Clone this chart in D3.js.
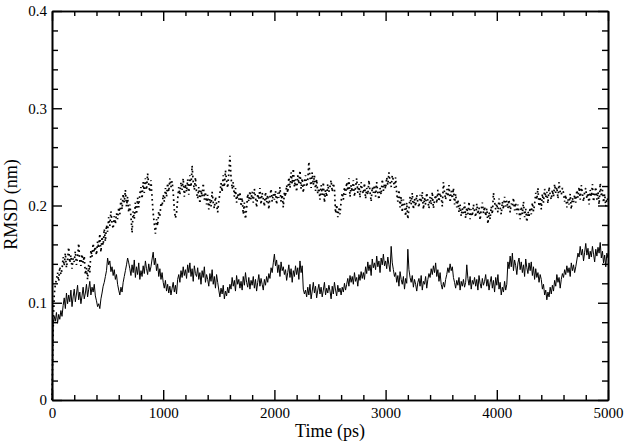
<!DOCTYPE html>
<html>
<head>
<meta charset="utf-8">
<script src="https://cdn.jsdelivr.net/npm/d3@7"></script>
<style>
  body { margin: 0; background: #fff; }
  .axis path, .axis line { stroke: #000; }
</style>
</head>
<body>
<div id="chart"></div>
<script>
// ************** data **************************************
// RMSD in thousandths of nm, one value every 10 ps from 0 to 5000
var timeStep = 10;

// solid trace (lower)
var rmsdSolid = [
  0, 78, 86, 81, 90, 79, 88, 83, 92, 86,
  97, 105, 94, 110, 99, 108, 101, 113, 96, 106,
  114, 101, 109, 118, 103, 111, 99, 107, 116, 104,
  110, 119, 106, 114, 122, 108, 116, 111, 119, 107,
  102, 96, 99, 94, 104, 110, 117, 121, 127, 133,
  146, 139, 143, 132, 137, 128, 134, 124, 129, 119,
  113, 108, 116, 111, 121, 127, 133, 139, 146, 141,
  135, 128, 139, 131, 144, 126, 137, 129, 141, 124,
  133, 127, 138, 130, 143, 135, 129, 140, 132, 137,
  145, 152, 139, 146, 133, 140, 127, 135, 124, 131,
  121, 115, 123, 112, 119, 110, 117, 108, 115, 121,
  111, 118, 109, 124, 129, 121, 133, 126, 137, 128,
  134, 125, 139, 131, 141, 127, 135, 122, 138, 130,
  127, 136, 124, 131, 119, 133, 126, 137, 121, 129,
  124, 117, 130, 122, 134, 119, 127, 115, 129, 121,
  113, 106, 115, 109, 118, 104, 112, 107, 116, 110,
  119, 114, 126, 117, 123, 112, 128, 119, 124, 115,
  122, 113, 127, 118, 131, 121, 116, 126, 114, 123,
  118, 127, 115, 124, 112, 121, 129, 117, 125, 119,
  113, 124, 118, 127, 121, 130, 125, 136, 131, 141,
  150, 138, 144, 131, 139, 127, 142, 133, 137, 129,
  134, 123, 131, 139, 126, 135, 121, 133, 127, 138,
  129, 136, 124, 143, 131, 138, 114, 109, 113, 106,
  116, 108, 119, 104, 112, 121, 110, 117, 105, 113,
  119, 109, 116, 106, 113, 121, 108, 115, 110, 118,
  112, 104, 117, 109, 121, 113, 107, 118, 111, 115,
  108, 116, 111, 120, 113, 119, 125, 117, 128, 121,
  127, 119, 131, 122, 126, 117, 129, 123, 132, 125,
  131, 124, 137, 130, 142, 133, 139, 128, 145, 136,
  141, 134, 148, 137, 143, 131, 146, 139, 150, 138,
  143, 135, 147, 139, 132, 158, 141, 134, 127, 131,
  121, 128, 117, 132, 124, 119, 127, 114, 125, 120,
  155, 134, 126, 121, 128, 116, 124, 119, 112, 121,
  125, 117, 128, 113, 122, 119, 127, 115, 124, 130,
  126, 135, 129, 138, 131, 141, 127, 134, 122, 131,
  119, 114, 121, 116, 124, 129, 136, 131, 140, 133,
  137, 126, 121, 115, 123, 118, 126, 113, 122, 117,
  124, 116, 121, 139, 125, 118, 127, 114, 123, 119,
  126, 117, 124, 113, 128, 120, 115, 125, 118, 122,
  129, 117, 124, 113, 121, 127, 115, 123, 111, 126,
  118, 129, 114, 121, 108, 116, 111, 122, 113, 119,
  142, 135, 148, 137, 151, 133, 144, 138, 129, 141,
  146, 134, 142, 131, 139, 127, 145, 136, 130, 141,
  133, 142, 128, 137, 124, 135, 126, 131, 121, 129,
  124, 114, 119, 108, 113, 103, 111, 106, 116, 109,
  118, 112, 123, 117, 129, 121, 126, 115, 124, 130,
  126, 134, 129, 138, 131, 136, 127, 141, 133, 139,
  131, 137, 144, 151, 147, 158, 149, 155, 143, 152,
  161, 149, 156, 145, 153, 147, 158, 150, 142, 155,
  148, 157, 151, 162, 146, 153, 141, 149, 137, 151,
  146
];

// dotted trace (upper)
var rmsdDotted = [
  0, 72, 108, 119, 124, 131, 122, 137, 129, 134,
  147, 138, 151, 136, 144, 157, 141, 149, 135, 146,
  142, 153, 139, 147, 161, 143, 138, 150, 141, 148,
  129, 136, 124, 139, 131, 154, 147, 161, 152, 158,
  149, 163, 156, 171, 152, 168, 159, 176, 163, 180,
  173, 188, 179, 194, 182, 176, 189, 181, 192, 186,
  198, 191, 207, 196, 212, 203, 216, 199, 209, 193,
  201, 189, 172, 194, 186, 203, 191, 208, 198, 212,
  219, 207, 224, 213, 228, 216, 233, 221, 214, 226,
  208, 192, 181, 171, 186, 179, 194, 188, 203, 199,
  211, 204, 218, 209, 223, 214, 228, 219, 225, 213,
  196, 187, 193, 206, 219, 211, 224, 216, 228, 209,
  222, 214, 227, 211, 231, 219, 241, 224, 216, 229,
  213, 207, 219, 202, 216, 209, 223, 206, 214, 201,
  211, 196, 207, 199, 214, 203, 197, 209, 201, 193,
  205, 212, 223, 214, 231, 219, 236, 226, 218, 233,
  251, 229, 217, 224, 209, 218, 203, 212, 206, 214,
  199, 208, 191, 203, 186, 197, 212, 204, 215, 206,
  214, 203, 217, 209, 198, 212, 206, 218, 201, 213,
  207, 199, 214, 203, 211, 196, 209, 217, 204, 212,
  206, 215, 201, 213, 208, 219, 204, 211, 198, 214,
  209, 221, 213, 229, 218, 234, 222, 238, 219, 227,
  214, 231, 222, 236, 217, 228, 213, 225, 231, 219,
  226, 245, 229, 218, 234, 221, 231, 215, 227, 212,
  218, 206, 221, 211, 224, 203, 216, 209, 222, 214,
  219, 226, 214, 223, 217, 192, 201, 188, 197, 191,
  204, 213, 206, 219, 211, 224, 215, 228, 209, 221,
  214, 226, 209, 219, 228, 213, 222, 208, 224, 216,
  212, 223, 207, 218, 211, 226, 214, 204, 219, 213,
  221, 209, 224, 213, 206, 218, 211, 227, 215, 222,
  217, 229, 221, 234, 224, 219, 231, 226, 218, 229,
  212, 204, 216, 198, 209, 193, 206, 201, 189, 203,
  186, 197, 209, 201, 213, 196, 207, 199, 211, 203,
  198, 211, 203, 214, 196, 208, 201, 213, 205, 197,
  209, 201, 214, 197, 206, 211, 202, 216, 204, 213,
  208, 199, 224, 213, 206, 217, 209, 221, 203, 215,
  207, 218, 201, 212, 198, 206, 193, 201, 189, 197,
  192, 203, 187, 198, 191, 204, 186, 196, 189, 201,
  194, 188, 202, 191, 198, 185, 196, 203, 192, 199,
  189, 197, 181, 193, 186, 199, 191, 213, 204, 196,
  202, 193, 207, 198, 191, 204, 196, 209, 199, 205,
  197, 206, 193, 202, 199, 208, 195, 203, 191, 201,
  193, 186, 199, 191, 204, 188, 197, 183, 194, 189,
  198, 191, 203, 194, 201, 213, 206, 218, 199, 209,
  196, 212, 203, 217, 208, 214, 202, 219, 211, 206,
  216, 209, 222, 213, 219, 207, 224, 214, 211, 218,
  213, 204, 211, 198, 207, 201, 212, 196, 208, 203,
  211, 203, 216, 208, 219, 206, 221, 212, 204, 214,
  218, 207, 213, 201, 216, 209, 222, 204, 211, 219,
  206, 214, 201, 223, 209, 216, 203, 212, 199, 208,
  205
];

var xMajorTicks = [0, 1000, 2000, 3000, 4000, 5000];
var yMajorTicks = [0, 0.1, 0.2, 0.3, 0.4];
var yTickLabels = ["0", "0.1", "0.2", "0.3", "0.4"];

var serif = "'Liberation Serif', 'Times New Roman', Times, serif";

// ************** layout *****************
var widthTotal = 629, heightTotal = 442;
var margin = {top: 11, right: 21, bottom: 42, left: 52},
    width = widthTotal - margin.left - margin.right,
    height = heightTotal - margin.top - margin.bottom;

var svg = d3.select("#chart").append("svg")
    .attr("width", widthTotal)
    .attr("height", heightTotal);

var g = svg.append("g")
    .attr("transform", "translate(" + margin.left + "," + margin.top + ")");

var x = d3.scaleLinear().domain([0, 5000]).range([0, width]);
var y = d3.scaleLinear().domain([0, 0.4]).range([height, 0]);

var xMinor = d3.range(0, 5001, 200).filter(function(d) { return d % 1000 != 0; });
var yMinor = d3.range(0, 21).map(function(i) { return i * 0.02; })
    .filter(function(d, i) { return i % 5 != 0; });

//traces
var line = d3.line()
    .x(function(d, i) { return x(i * timeStep); })
    .y(function(d) { return y(d / 1000); });

g.append("path")
    .datum(rmsdDotted)
    .attr("fill", "none")
    .attr("stroke", "#000")
    .attr("stroke-width", 1.7)
    .attr("stroke-dasharray", "1.7,3.2")
    .attr("d", line);

g.append("path")
    .datum(rmsdSolid)
    .attr("fill", "none")
    .attr("stroke", "#000")
    .attr("stroke-width", 1)
    .attr("d", line);

//axes, ticks pointing inward on all four sides
function addAxis(axis, transform) {
  var a = g.append("g").attr("class", "axis");
  if (transform) a.attr("transform", transform);
  a.call(axis);
  a.selectAll("path").attr("stroke-width", 1.6);
  a.selectAll("line").attr("stroke-width", 1.4);
  a.selectAll("text")
    .style("font-family", serif)
    .style("font-size", "15px")
    .attr("fill", "#000");
  return a;
}

addAxis(d3.axisBottom(x).tickValues(xMajorTicks).tickSize(-10).tickSizeOuter(0)
    .tickPadding(7).tickFormat(d3.format("d")), "translate(0," + height + ")");
addAxis(d3.axisBottom(x).tickValues(xMinor).tickSize(-5).tickSizeOuter(0)
    .tickFormat(""), "translate(0," + height + ")");
addAxis(d3.axisTop(x).tickValues(xMajorTicks).tickSize(-10).tickSizeOuter(0)
    .tickFormat(""));
addAxis(d3.axisTop(x).tickValues(xMinor).tickSize(-5).tickSizeOuter(0)
    .tickFormat(""));

addAxis(d3.axisLeft(y).tickValues(yMajorTicks).tickSize(-10).tickSizeOuter(0)
    .tickPadding(5).tickFormat(function(d, i) { return yTickLabels[i]; }));
addAxis(d3.axisLeft(y).tickValues(yMinor).tickSize(-6).tickSizeOuter(0)
    .tickFormat(""));
addAxis(d3.axisRight(y).tickValues(yMajorTicks).tickSize(-10).tickSizeOuter(0)
    .tickFormat(""), "translate(" + width + ",0)");
addAxis(d3.axisRight(y).tickValues(yMinor).tickSize(-6).tickSizeOuter(0)
    .tickFormat(""), "translate(" + width + ",0)");

//axis titles
svg.append("text")
    .attr("x", margin.left + width / 2)
    .attr("y", 437)
    .attr("text-anchor", "middle")
    .style("font-family", serif)
    .style("font-size", "18px")
    .text("Time (ps)");

svg.append("text")
    .attr("transform", "translate(17," + (margin.top + height / 2 - 1) + ") rotate(-90)")
    .attr("text-anchor", "middle")
    .style("font-family", serif)
    .style("font-size", "18px")
    .text("RMSD (nm)");
</script>
</body>
</html>
